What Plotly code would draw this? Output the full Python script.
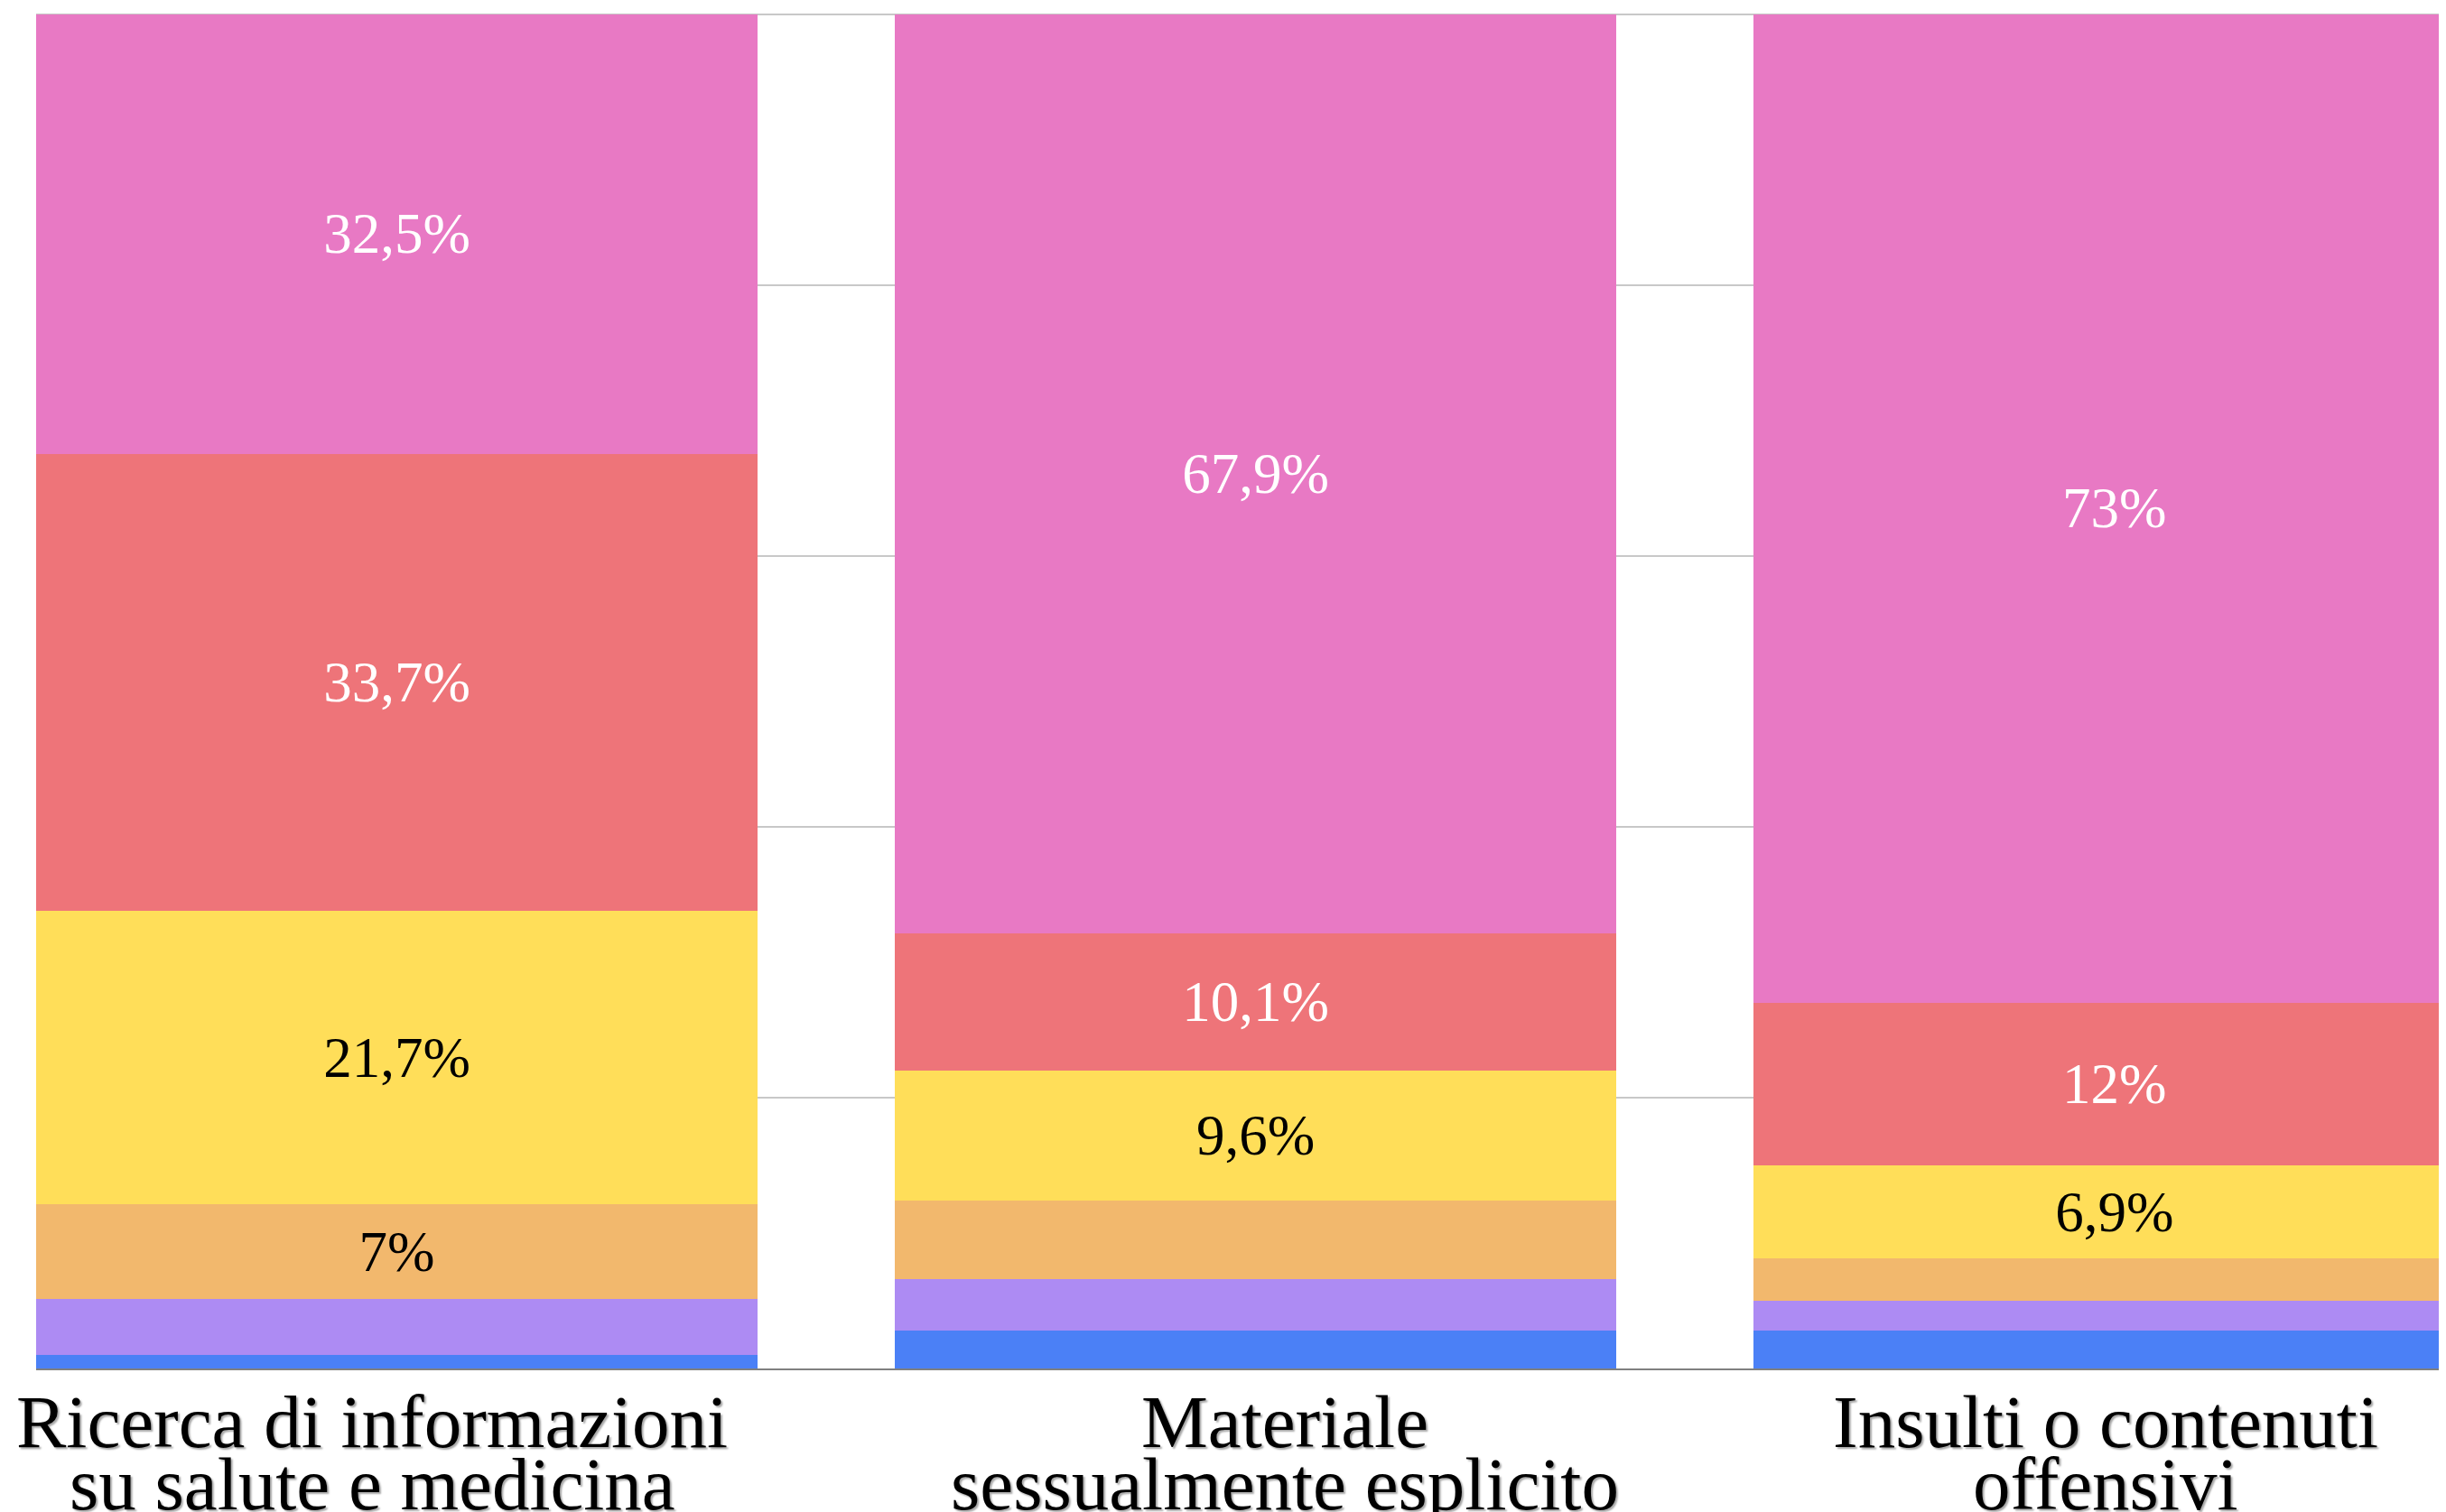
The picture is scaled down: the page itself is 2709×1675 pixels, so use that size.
import plotly.graph_objects as go

# ---- data ----
cat_line1 = ["Ricerca di informazioni", "Materiale", "Insulti o contenuti"]
cat_line2 = ["su salute e medicina", "sessualmente esplicito", "offensivi"]
categories = [a + " " + b for a, b in zip(cat_line1, cat_line2)]

series_names = ["Serie 1", "Serie 2", "Serie 3", "Serie 4", "Serie 5", "Serie 6"]
serie_1 = [1.0, 2.8, 2.8]     # blue (bottom)
serie_2 = [4.1, 3.8, 2.2]     # purple
serie_3 = [7.0, 5.8, 3.1]     # orange
serie_4 = [21.7, 9.6, 6.9]    # yellow
serie_5 = [33.7, 10.1, 12.0]  # red
serie_6 = [32.5, 67.9, 73.0]  # pink (top)
series_values = [serie_1, serie_2, serie_3, serie_4, serie_5, serie_6]

colors = ["#4B80F6", "#AD8BF3", "#F2B86D", "#FFDE59", "#EE7479", "#E879C4"]
text_colors = ["#000000", "#000000", "#000000", "#000000", "#FFFFFF", "#FFFFFF"]
LABEL_MIN = 6.5
label_xshift = [-27, 32, -10]   # category label offsets (style)


def fmt(v):
    s = ("%.1f" % v).rstrip("0").rstrip(".")
    return s.replace(".", ",") + "%"


fig = go.Figure()
for name, vals, col, tcol in zip(series_names, series_values, colors, text_colors):
    fig.add_trace(go.Bar(
        x=categories, y=vals, name=name,
        marker=dict(color=col, line=dict(width=0)),
        text=[fmt(v) if v >= LABEL_MIN else "" for v in vals],
        textposition="inside", insidetextanchor="middle", textangle=0,
        constraintext="none",
        textfont=dict(family="Liberation Serif", size=63, color=tcol),
        hoverinfo="skip",
    ))

LABEL_FONT = dict(family="Liberation Serif", size=83, color="#000000",
                  shadow="2px 2px 2px rgba(0,0,0,0.35)")
for cat, l1, l2, dx in zip(categories, cat_line1, cat_line2, label_xshift):
    fig.add_annotation(x=cat, xref="x", y=0, yref="y", yanchor="top",
                       text=l1, showarrow=False, yshift=-11, xshift=dx,
                       font=LABEL_FONT)
    fig.add_annotation(x=cat, xref="x", y=0, yref="y", yanchor="top",
                       text=l2, showarrow=False, yshift=-80, xshift=dx,
                       font=LABEL_FONT)

# page body has an 8px margin: compensate so the plot lands where the reference has it
fig.update_layout(
    width=2701, height=1667,
    margin=dict(l=32, r=0, t=6, b=159),
    barmode="stack", bargap=0.16,
    showlegend=False,
    plot_bgcolor="#FFFFFF", paper_bgcolor="#FFFFFF",
)
fig.update_xaxes(range=[-0.42, 2.386], showticklabels=False, ticks="",
                 showgrid=False, showline=True, linecolor="#808080", linewidth=1.5)
fig.update_yaxes(range=[0, 100.1], tickvals=[0, 20, 40, 60, 80, 100],
                 showticklabels=False, ticks="",
                 showgrid=True, gridcolor="#C8C8C8", gridwidth=1.5,
                 zeroline=False, showline=False)

fig.write_html("out.html")
